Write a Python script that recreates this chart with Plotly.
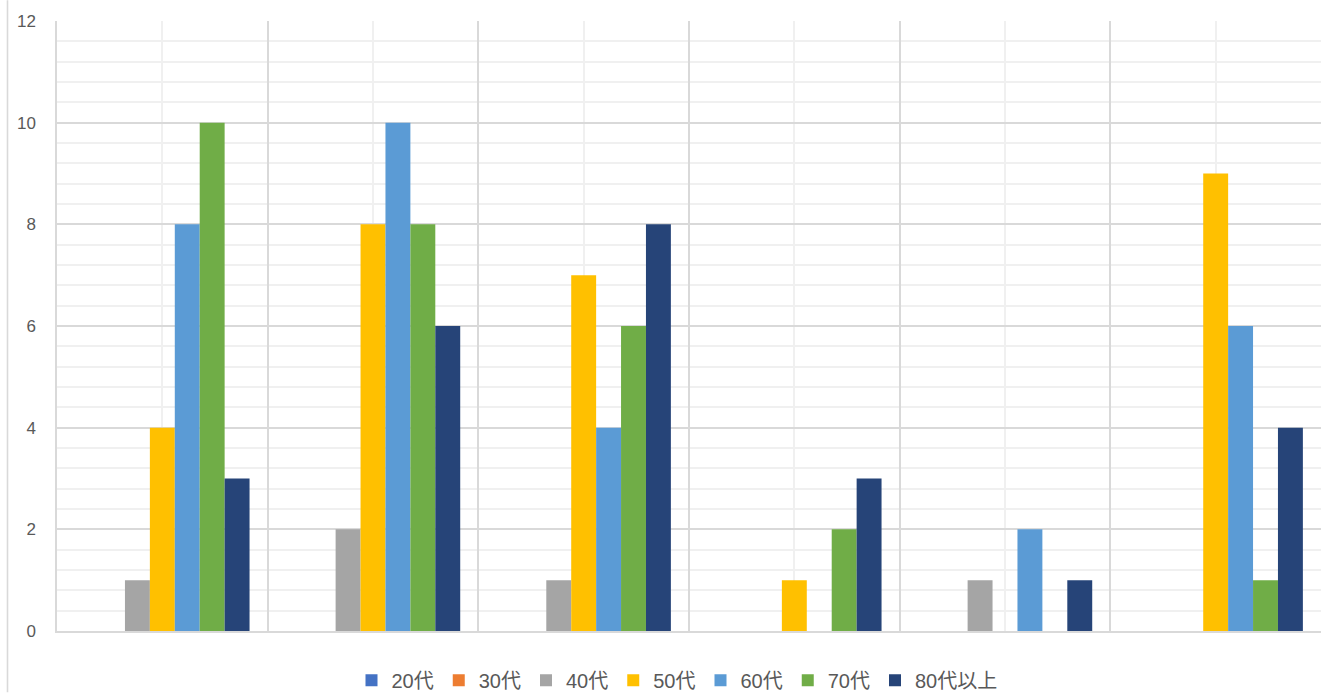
import plotly.graph_objects as go

categories = ["1", "2", "3", "4", "5", "6"]
series_names = ["20代", "30代", "40代", "50代", "60代", "70代", "80代以上"]
s20 = [0, 0, 0, 0, 0, 0]
s30 = [0, 0, 0, 0, 0, 0]
s40 = [1, 2, 1, 0, 1, 0]
s50 = [4, 8, 7, 1, 0, 9]
s60 = [8, 10, 4, 0, 2, 6]
s70 = [10, 8, 6, 2, 0, 1]
s80 = [3, 6, 8, 3, 1, 4]
colors = ["#4472C4", "#ED7D31", "#A5A5A5", "#FFC000", "#5B9BD5", "#70AD47", "#264478"]
y_ticks = [0, 2, 4, 6, 8, 10, 12]

series = [s20, s30, s40, s50, s60, s70, s80]
xpos = list(range(len(categories)))

fig = go.Figure()
for name, vals, col in zip(series_names, series, colors):
    fig.add_trace(go.Bar(x=xpos, y=vals, name=name, marker_color=col,
                         marker_line_width=0))

# capture appears ~700px tall and is resized to 693, so lay out on a 700px canvas
W, H = 1321, 700
k = 693 / H
ml, mr = 57, 0
mt = round(21 / k)
mb = round(H - 632 / k)
pw, ph = W - ml - mr, H - mt - mb

fig.update_layout(
    width=W, height=H,
    margin=dict(l=ml, r=mr, t=mt, b=mb, pad=0),
    paper_bgcolor="white", plot_bgcolor="white",
    barmode="group", bargap=0.172, bargroupgap=0,
    font=dict(family="Liberation Sans, Noto Sans CJK JP", color="#595959"),
    legend=dict(orientation="h", x=(677 - ml) / pw, xanchor="center",
                y=(H - mb - 681 / k) / ph, yanchor="middle",
                font=dict(size=20, color="#595959", family="Liberation Sans, Noto Sans CJK JP"),
                itemwidth=30),
    xaxis=dict(range=[-0.5, len(categories) - 0.5], tickmode="linear", tick0=0.5, dtick=1,
               showticklabels=False, ticks="", showgrid=True, gridcolor="#d9d9d9", gridwidth=1.5,
               zeroline=False, showline=True, linecolor="#d9d9d9", linewidth=1.5,
               minor=dict(tickmode="linear", tick0=0, dtick=0.5, showgrid=True,
                          gridcolor="#f0f0f0", gridwidth=1.5, ticks="")),
    yaxis=dict(range=[0, 12], tickvals=y_ticks, showgrid=True, gridcolor="#d9d9d9", gridwidth=1.5,
               zeroline=False, showline=True, linecolor="#d9d9d9", linewidth=1.5,
               ticks="", ticklabelstandoff=16,
               tickfont=dict(size=17, color="#595959"),
               minor=dict(tickmode="linear", tick0=0, dtick=0.4, showgrid=True,
                          gridcolor="#f0f0f0", gridwidth=1.5, ticks="")),
)

fig.add_shape(type="line", xref="paper", yref="paper",
              x0=(7.5 - ml) / pw, x1=(7.5 - ml) / pw,
              y0=(H - mb - H) / ph, y1=(H - mb) / ph,
              line=dict(color="#d9d9d9", width=1.6))

fix_page = (
    "var d=document.documentElement,b=document.body;"
    "d.style.margin='0';d.style.overflow='hidden';"
    "b.style.margin='0';b.style.overflow='hidden';"
)
fig.write_html("out.html", config={"displayModeBar": False}, post_script=fix_page)
